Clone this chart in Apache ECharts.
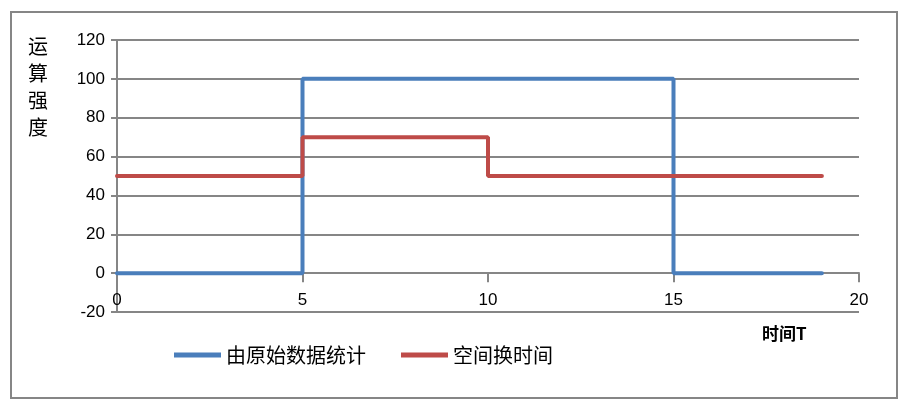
<!DOCTYPE html>
<html><head><meta charset="utf-8">
<script src="https://cdn.jsdelivr.net/npm/echarts@6/dist/echarts.min.js"></script>
<style>html,body{margin:0;padding:0;background:#fff}#c{width:908px;height:409px}</style>
</head><body><div id="c"></div>
<script>
const seriesNames = ['由原始数据统计', '空间换时间'];
const blueX = [0, 5, 5, 15, 15, 19];
const blueY = [0, 0, 100, 100, 0, 0];
const redX = [0, 5, 5, 10, 10, 19];
const redY = [50, 50, 70, 70, 50, 50];
const xTicks = { min: 0, max: 20, interval: 5 };
const yTicks = { min: -20, max: 120, interval: 20 };
const yTitle = '运算强度';
const xTitle = '时间T';

const zip = (xs, ys) => xs.map((x, i) => [x, ys[i]]);
const cjk = '"Noto Sans CJK SC", "Liberation Sans", sans-serif';
const num = '"Liberation Sans", "Noto Sans", sans-serif';

const chart = echarts.init(document.getElementById('c'));
chart.setOption({
  animation: false,
  backgroundColor: '#fff',
  grid: { left: 117, right: 49, top: 40, bottom: 97 },
  xAxis: {
    type: 'value', min: xTicks.min, max: xTicks.max, interval: xTicks.interval,
    axisLine: { show: true, onZero: true, lineStyle: { color: '#868686', width: 2 } },
    axisTick: { show: true, inside: false, length: 9, lineStyle: { color: '#868686', width: 2 } },
    axisLabel: { color: '#000', fontFamily: num, fontSize: 17, margin: -20 },
    splitLine: { show: false }
  },
  yAxis: {
    type: 'value', min: yTicks.min, max: yTicks.max, interval: yTicks.interval,
    axisLine: { show: true, lineStyle: { color: '#868686', width: 2 } },
    axisTick: { show: true, length: 6, lineStyle: { color: '#868686', width: 2 } },
    axisLabel: { color: '#000', fontFamily: num, fontSize: 17, margin: 12 },
    splitLine: { show: true, lineStyle: { color: '#868686', width: 2 } }
  },
  legend: {
    left: 169, top: 340, itemWidth: 47, itemHeight: 5, itemGap: 35, icon: 'rect',
    textStyle: { fontFamily: cjk, fontSize: 20, color: '#000' },
    data: seriesNames
  },
  series: [
    { name: seriesNames[0], type: 'line', data: zip(blueX, blueY), showSymbol: false, symbol: 'none',
      color: '#4a7ebb', lineStyle: { width: 4, color: '#4a7ebb', cap: 'round' } },
    { name: seriesNames[1], type: 'line', data: zip(redX, redY), showSymbol: false, symbol: 'none',
      color: '#be4b48', lineStyle: { width: 4, color: '#be4b48', cap: 'round' } }
  ],
  graphic: [
    { type: 'rect', shape: { x: 11, y: 12, width: 886, height: 386 }, style: { fill: 'none', stroke: '#868686', lineWidth: 2 }, z: 0, silent: true },
    { type: 'text', left: 28, top: 33, style: { text: yTitle.split('').join('\n'), font: '20px ' + cjk, lineHeight: 27, fill: '#000' } },
    { type: 'text', left: 762, top: 325, style: { text: xTitle, font: 'bold 17px ' + cjk, fill: '#000' } }
  ]
});
</script></body></html>
